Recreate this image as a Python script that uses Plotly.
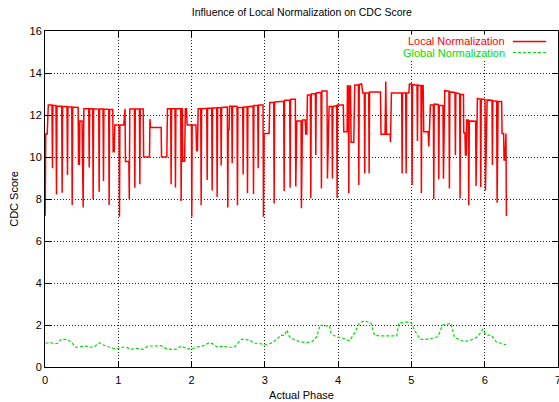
import plotly.graph_objects as go

# Local normalization: CDC score vertices along the actual phase
local_phase = [
    0.000, 0.003, 0.010, 0.030, 0.045, 0.095, 0.102, 0.108, 0.150, 0.157, 0.163,
    0.228, 0.234, 0.240, 0.300, 0.307, 0.313, 0.365, 0.371, 0.378, 0.452, 0.458,
    0.470, 0.475, 0.505, 0.521, 0.530, 0.597, 0.603, 0.609, 0.651, 0.657, 0.663,
    0.733, 0.739, 0.745, 0.792, 0.798, 0.804, 0.869, 0.875, 0.881, 0.925, 0.930,
    0.945, 0.953, 1.010, 1.016, 1.022, 1.075, 1.082, 1.092, 1.098, 1.144, 1.150,
    1.157, 1.220, 1.226, 1.232, 1.288, 1.294, 1.300, 1.340, 1.346, 1.426, 1.432,
    1.440, 1.585, 1.590, 1.662, 1.671, 1.715, 1.721, 1.727, 1.774, 1.780, 1.786,
    1.852, 1.858, 1.866, 1.874, 1.880, 1.905, 1.915, 1.930, 1.940, 1.998, 2.003,
    2.008, 2.060, 2.068, 2.080, 2.090, 2.125, 2.131, 2.137, 2.207, 2.213, 2.219,
    2.275, 2.281, 2.287, 2.343, 2.349, 2.355, 2.398, 2.404, 2.410, 2.488, 2.494,
    2.500, 2.512, 2.518, 2.548, 2.554, 2.560, 2.620, 2.626, 2.632, 2.698, 2.704,
    2.710, 2.757, 2.763, 2.769, 2.839, 2.845, 2.851, 2.903, 2.909, 2.915, 2.975,
    2.981, 2.990, 3.058, 3.067, 3.121, 3.127, 3.133, 3.257, 3.263, 3.269, 3.339,
    3.345, 3.351, 3.416, 3.422, 3.436, 3.494, 3.499, 3.513, 3.552, 3.558, 3.572,
    3.581, 3.621, 3.627, 3.633, 3.689, 3.695, 3.701, 3.766, 3.772, 3.778, 3.848,
    3.854, 3.877, 3.916, 3.922, 3.928, 3.980, 3.986, 3.992, 4.070, 4.077, 4.122,
    4.127, 4.139, 4.145, 4.151, 4.168, 4.177, 4.213, 4.227, 4.276, 4.282, 4.288,
    4.320, 4.336, 4.357, 4.363, 4.369, 4.417, 4.423, 4.429, 4.577, 4.585, 4.640,
    4.650, 4.659, 4.710, 4.714, 4.727, 4.867, 4.873, 4.879, 4.922, 4.928, 4.934,
    4.965, 4.973, 5.003, 5.009, 5.015, 5.076, 5.082, 5.088, 5.130, 5.136, 5.142,
    5.160, 5.168, 5.228, 5.237, 5.259, 5.299, 5.305, 5.311, 5.367, 5.373, 5.380,
    5.430, 5.437, 5.455, 5.512, 5.518, 5.524, 5.594, 5.600, 5.606, 5.658, 5.664,
    5.670, 5.710, 5.714, 5.730, 5.737, 5.748, 5.755, 5.776, 5.782, 5.790, 5.876,
    5.882, 5.900, 5.940, 5.946, 5.952, 6.004, 6.010, 6.033, 6.099, 6.105, 6.111,
    6.163, 6.169, 6.183, 6.231, 6.237, 6.258, 6.264, 6.276, 6.283, 6.290, 6.296,
]
local_score = [
    11.10, 7.20, 11.10, 11.10, 12.48, 12.48, 9.46, 12.45, 12.45, 8.22, 12.42,
    12.42, 8.30, 12.40, 12.40, 9.14, 12.38, 12.38, 7.71, 12.38, 12.36, 9.65,
    9.65, 11.72, 11.72, 7.59, 12.30, 12.30, 9.50, 12.30, 12.30, 8.00, 12.30,
    12.28, 8.35, 12.28, 12.28, 8.86, 12.28, 12.26, 7.71, 12.26, 12.26, 10.25,
    10.25, 11.52, 11.52, 7.16, 11.52, 11.52, 12.30, 12.30, 9.78, 9.78, 8.00,
    12.28, 12.28, 8.54, 12.28, 12.28, 8.70, 12.28, 12.28, 10.00, 10.00, 11.81,
    11.41, 11.41, 10.00, 10.00, 12.30, 12.30, 8.70, 12.30, 12.30, 8.55, 12.30,
    12.30, 7.90, 12.30, 12.30, 9.80, 9.80, 12.30, 12.30, 11.52, 11.52, 7.16,
    11.52, 11.52, 10.30, 10.30, 12.30, 12.30, 7.70, 12.30, 12.32, 8.90, 12.32,
    12.32, 8.40, 12.33, 12.33, 8.10, 12.34, 12.34, 9.60, 12.36, 12.38, 7.60,
    11.30, 11.30, 12.42, 12.42, 9.70, 12.42, 12.42, 7.70, 12.36, 12.36, 9.17,
    12.38, 12.38, 8.27, 12.40, 12.42, 8.24, 12.45, 12.45, 9.46, 12.48, 12.48,
    7.16, 11.12, 11.12, 12.60, 12.60, 7.79, 12.62, 12.65, 8.38, 12.70, 12.70,
    8.54, 12.75, 12.75, 8.60, 11.71, 11.71, 7.56, 11.76, 11.76, 11.10, 11.10,
    12.95, 12.95, 8.03, 13.00, 13.02, 10.10, 13.05, 13.08, 8.50, 13.14, 13.14,
    8.98, 12.40, 12.40, 8.98, 12.40, 12.45, 8.05, 12.48, 12.48, 11.20, 11.20,
    13.38, 13.38, 8.27, 13.38, 13.38, 10.70, 10.70, 13.43, 13.43, 8.67, 13.46,
    13.48, 13.05, 13.05, 9.22, 13.05, 13.05, 9.22, 13.10, 13.10, 11.08, 11.08,
    13.59, 11.08, 11.08, 10.70, 13.05, 13.05, 9.22, 13.05, 13.05, 9.22, 13.05,
    13.05, 13.48, 13.48, 8.67, 13.45, 13.42, 10.76, 13.42, 13.40, 8.27, 13.40,
    13.40, 11.20, 11.20, 10.50, 12.48, 12.48, 8.00, 12.52, 12.50, 8.94, 12.45,
    12.45, 8.97, 13.16, 13.14, 8.50, 13.10, 13.08, 10.10, 13.05, 13.02, 8.03,
    12.98, 12.98, 11.16, 11.16, 10.10, 10.10, 11.76, 11.76, 7.70, 11.72, 11.70,
    8.62, 12.79, 12.76, 8.57, 12.76, 12.74, 8.40, 12.72, 12.70, 9.62, 12.68,
    12.66, 7.82, 12.64, 12.64, 11.12, 11.12, 9.86, 9.86, 11.12, 11.12, 7.19,
]

# Global normalization: CDC score along the actual phase
global_phase = [
    0.007, 0.084, 0.130, 0.175, 0.220, 0.289, 0.357, 0.416, 0.494, 0.562, 0.607,
    0.675, 0.744, 0.798, 0.880, 0.980, 1.040, 1.108, 1.176, 1.244, 1.335, 1.403,
    1.494, 1.585, 1.644, 1.722, 1.790, 1.858, 1.926, 1.994, 2.063, 2.153, 2.244,
    2.290, 2.358, 2.426, 2.494, 2.585, 2.677, 2.790, 2.858, 2.926, 2.995, 3.086,
    3.154, 3.222, 3.267, 3.300, 3.336, 3.404, 3.472, 3.563, 3.645, 3.708, 3.754,
    3.836, 3.881, 3.904, 3.972, 4.063, 4.154, 4.222, 4.290, 4.359, 4.450, 4.495,
    4.563, 4.700, 4.800, 4.827, 4.920, 5.000, 5.040, 5.119, 5.200, 5.290, 5.360,
    5.427, 5.540, 5.586, 5.655, 5.723, 5.814, 5.905, 5.973, 6.018, 6.087, 6.155,
    6.224, 6.292,
]
global_score = [
    1.13, 1.16, 1.10, 1.13, 1.32, 1.32, 1.21, 0.94, 0.97, 1.00, 0.94,
    0.97, 1.16, 1.05, 0.94, 0.84, 0.94, 0.94, 0.84, 0.89, 0.84, 1.00,
    1.00, 1.02, 0.89, 0.84, 0.84, 1.00, 0.89, 0.84, 0.94, 1.00, 1.16,
    1.10, 0.94, 1.00, 0.94, 0.94, 1.32, 1.29, 1.13, 1.13, 1.05, 1.13,
    1.29, 1.52, 1.49, 1.76, 1.44, 1.29, 1.21, 1.16, 1.21, 1.44, 2.00,
    1.95, 2.00, 1.60, 1.44, 1.37, 1.25, 1.60, 2.10, 2.20, 2.08, 1.52,
    1.48, 1.48, 1.48, 2.08, 2.15, 2.10, 1.76, 1.32, 1.32, 1.37, 1.44,
    2.00, 2.08, 1.44, 1.29, 1.21, 1.29, 1.44, 1.79, 1.52, 1.52, 1.21,
    1.13, 1.05,
]

x_ticks = [0, 1, 2, 3, 4, 5, 6, 7]
y_ticks = [0, 2, 4, 6, 8, 10, 12, 14, 16]

RED = "#ff0000"
GREEN = "#00dd00"
FONT = "Liberation Sans, Arial, Helvetica, sans-serif"

fig = go.Figure()
fig.add_trace(go.Scatter(
    x=local_phase, y=local_score, mode="lines", name="Local Normalization",
    line=dict(color=RED, width=1.5), showlegend=False,
))
fig.add_trace(go.Scatter(
    x=global_phase, y=global_score, mode="lines", name="Global Normalization",
    line=dict(color=GREEN, width=1.2, dash="3px,2px"), showlegend=False,
))

# Key in the upper right: label text followed by a line sample
key = [("Local Normalization", RED, "solid", 0.969),
       ("Global Normalization", GREEN, "3px,2px", 0.936)]
for label, color, dash, yk in key:
    fig.add_annotation(
        x=0.899, y=yk, xref="paper", yref="paper", text=label, showarrow=False,
        xanchor="right", yanchor="middle", bgcolor="white", borderpad=0,
        font=dict(family=FONT, size=11, color=color),
    )
    fig.add_shape(
        type="line", xref="paper", yref="paper", x0=0.912, x1=0.977, y0=yk, y1=yk,
        line=dict(color=color, width=1.5 if dash == "solid" else 1.2, dash=dash),
    )

axis_common = dict(
    showline=True, linecolor="black", linewidth=1, mirror="allticks",
    ticks="inside", ticklen=6, tickcolor="black", tickwidth=1,
    showgrid=True, gridcolor="#222222", gridwidth=1, griddash="1px,2px",
    zeroline=False, tickfont=dict(family=FONT, size=11, color="black"),
    ticklabeloverflow="allow", automargin=False,
)

fig.update_xaxes(
    range=[0, 7], tickvals=x_ticks, ticktext=[str(v) for v in x_ticks],
    ticklabelstandoff=3,
    title=dict(text="Actual Phase", font=dict(family=FONT, size=11, color="black"), standoff=6),
    **axis_common,
)
fig.update_yaxes(
    range=[0, 16], tickvals=y_ticks, ticktext=[str(v) for v in y_ticks],
    title=dict(text="CDC Score", font=dict(family=FONT, size=11, color="black"), standoff=8),
    **axis_common,
)

fig.update_layout(
    width=559, height=402,
    margin=dict(l=45, r=1, t=31, b=35),
    paper_bgcolor="white", plot_bgcolor="white",
    title=dict(text="Influence of Local Normalization on CDC Score",
               x=0.54, xanchor="center", y=0.97, yanchor="middle",
               font=dict(family=FONT, size=10.5, color="black")),
)

fig.write_html("out.html")
